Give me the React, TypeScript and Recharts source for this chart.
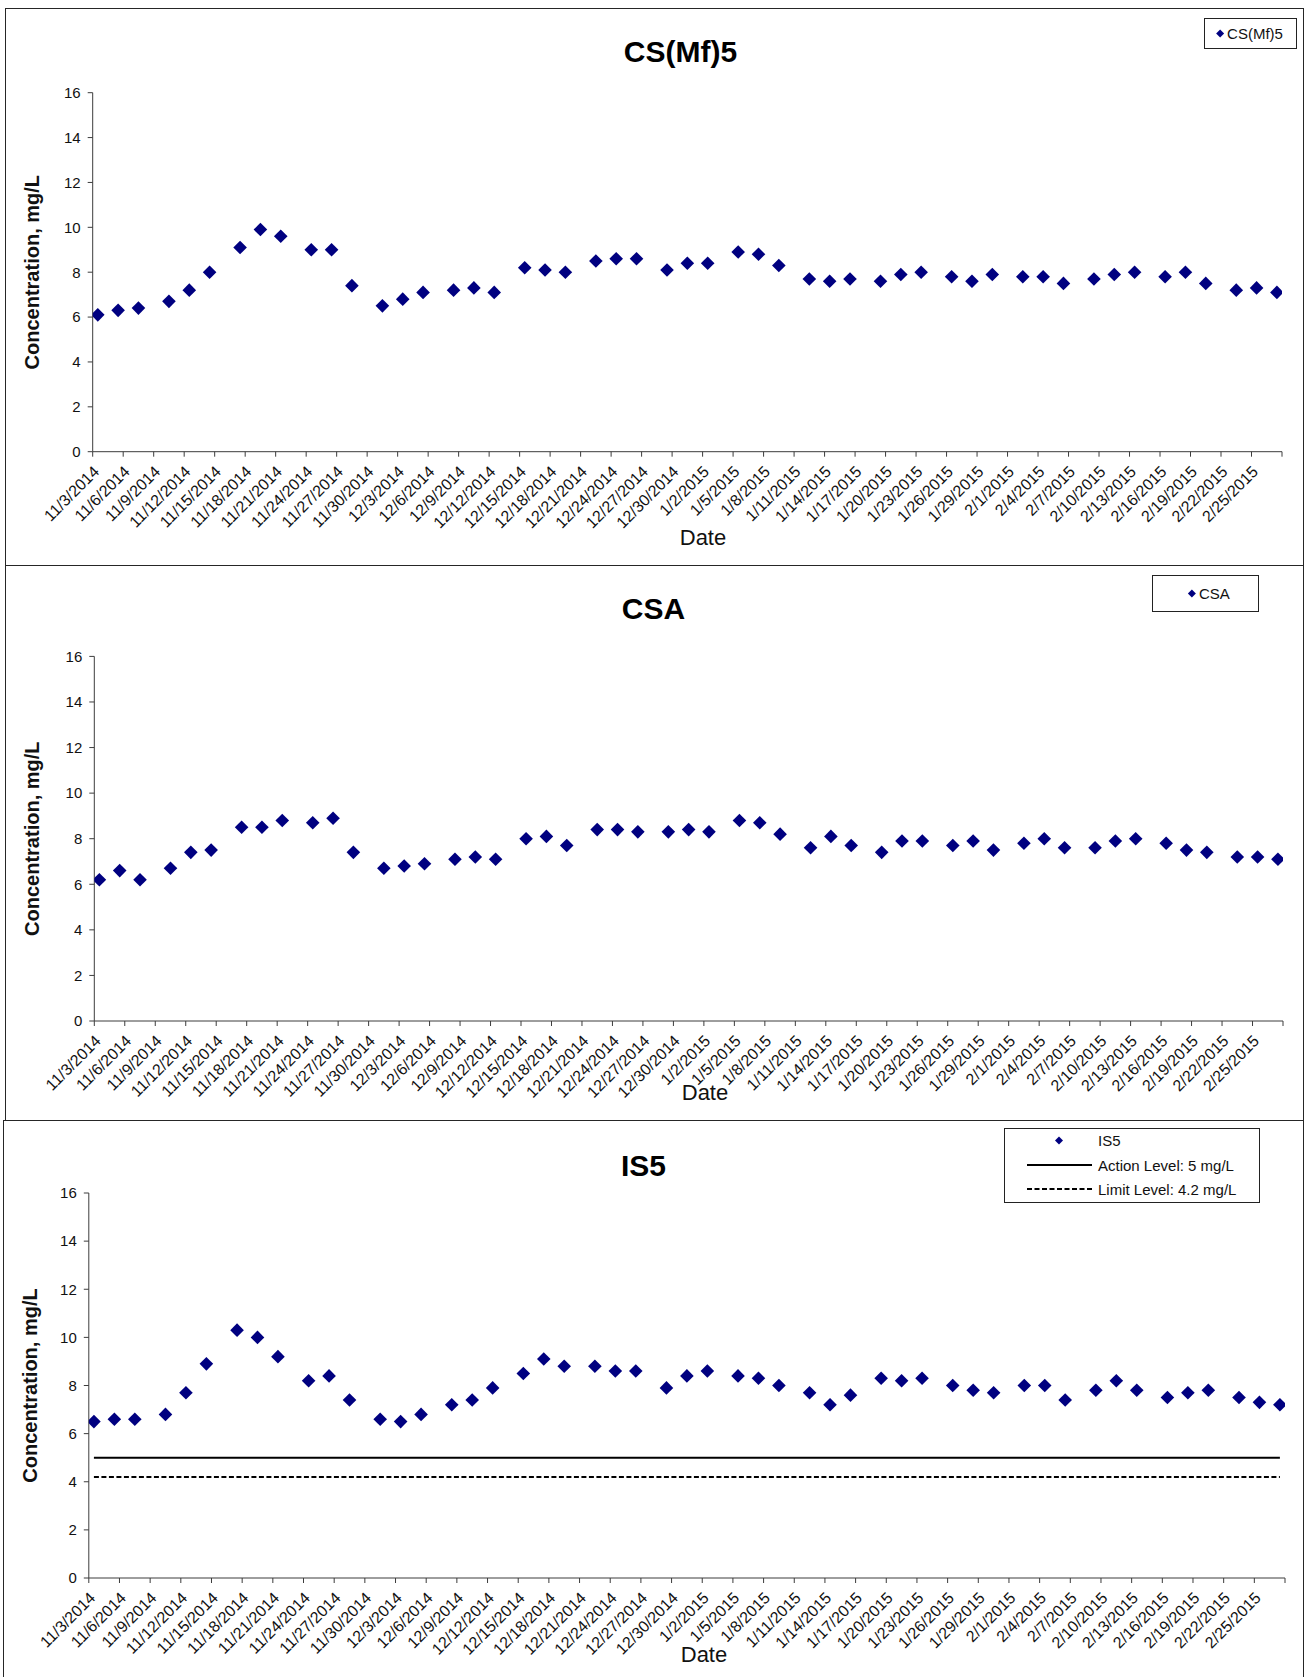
import React from 'react';
import { ScatterChart, Scatter, XAxis, YAxis, Legend } from 'recharts';

const FONT = '"Liberation Sans", Arial, Helvetica, sans-serif';
const NAVY = '#000080';
const AXIS = '#3c3c3c';
const TEXT = '#111111';

// ---------- data ----------
const sampleDates = [
  '11/3/2014', '11/5/2014', '11/7/2014',
  '11/10/2014', '11/12/2014', '11/14/2014',
  '11/17/2014', '11/19/2014', '11/21/2014',
  '11/24/2014', '11/26/2014', '11/28/2014',
  '12/1/2014', '12/3/2014', '12/5/2014',
  '12/8/2014', '12/10/2014', '12/12/2014',
  '12/15/2014', '12/17/2014', '12/19/2014',
  '12/22/2014', '12/24/2014', '12/26/2014',
  '12/29/2014', '12/31/2014', '1/2/2015',
  '1/5/2015', '1/7/2015', '1/9/2015',
  '1/12/2015', '1/14/2015', '1/16/2015',
  '1/19/2015', '1/21/2015', '1/23/2015',
  '1/26/2015', '1/28/2015', '1/30/2015',
  '2/2/2015', '2/4/2015', '2/6/2015',
  '2/9/2015', '2/11/2015', '2/13/2015',
  '2/16/2015', '2/18/2015', '2/20/2015',
  '2/23/2015', '2/25/2015', '2/27/2015',
];

const csmf5Values = [
  6.1, 6.3, 6.4, 6.7, 7.2, 8.0, 9.1, 9.9, 9.6, 9.0, 9.0, 7.4,
  6.5, 6.8, 7.1, 7.2, 7.3, 7.1, 8.2, 8.1, 8.0, 8.5, 8.6, 8.6,
  8.1, 8.4, 8.4, 8.9, 8.8, 8.3, 7.7, 7.6, 7.7, 7.6, 7.9, 8.0,
  7.8, 7.6, 7.9, 7.8, 7.8, 7.5, 7.7, 7.9, 8.0, 7.8, 8.0, 7.5,
  7.2, 7.3, 7.1,
];

const csaValues = [
  6.2, 6.6, 6.2, 6.7, 7.4, 7.5, 8.5, 8.5, 8.8, 8.7, 8.9, 7.4,
  6.7, 6.8, 6.9, 7.1, 7.2, 7.1, 8.0, 8.1, 7.7, 8.4, 8.4, 8.3,
  8.3, 8.4, 8.3, 8.8, 8.7, 8.2, 7.6, 8.1, 7.7, 7.4, 7.9, 7.9,
  7.7, 7.9, 7.5, 7.8, 8.0, 7.6, 7.6, 7.9, 8.0, 7.8, 7.5, 7.4,
  7.2, 7.2, 7.1,
];

const is5Values = [
  6.5, 6.6, 6.6, 6.8, 7.7, 8.9, 10.3, 10.0, 9.2, 8.2, 8.4, 7.4,
  6.6, 6.5, 6.8, 7.2, 7.4, 7.9, 8.5, 9.1, 8.8, 8.8, 8.6, 8.6,
  7.9, 8.4, 8.6, 8.4, 8.3, 8.0, 7.7, 7.2, 7.6, 8.3, 8.2, 8.3,
  8.0, 7.8, 7.7, 8.0, 8.0, 7.4, 7.8, 8.2, 7.8, 7.5, 7.7, 7.8,
  7.5, 7.3, 7.2,
];

const actionLevel = 5;
const limitLevel = 4.2;

const tickLabels = [
  '11/3/2014', '11/6/2014', '11/9/2014', '11/12/2014', '11/15/2014', '11/18/2014',
  '11/21/2014', '11/24/2014', '11/27/2014', '11/30/2014', '12/3/2014', '12/6/2014',
  '12/9/2014', '12/12/2014', '12/15/2014', '12/18/2014', '12/21/2014', '12/24/2014',
  '12/27/2014', '12/30/2014', '1/2/2015', '1/5/2015', '1/8/2015', '1/11/2015',
  '1/14/2015', '1/17/2015', '1/20/2015', '1/23/2015', '1/26/2015', '1/29/2015',
  '2/1/2015', '2/4/2015', '2/7/2015', '2/10/2015', '2/13/2015', '2/16/2015',
  '2/19/2015', '2/22/2015', '2/25/2015',
];
const axisStartDate = '11/3/2014';
const axisEndDate = '2/28/2015';
const yTicks = [0, 2, 4, 6, 8, 10, 12, 14, 16];

// ---------- helpers ----------
const toUTC = (s: string) => {
  const [m, d, y] = s.split('/').map(Number);
  return Date.UTC(y, m - 1, d);
};
const dayOf = (s: string) => (toUTC(s) - toUTC(axisStartDate)) / 86400000;

// points sit at the middle of their day (date axis, between tick marks)
const toPoints = (values: number[]) =>
  sampleDates.map((d, i) => ({ x: dayOf(d) + 0.5, y: values[i] }));

const xTicks = [...tickLabels, axisEndDate].map(dayOf);
const labelByDay = new Map<number, string>(tickLabels.map((t) => [dayOf(t), t]));
const xDomain = [0, dayOf(axisEndDate)];

const firstX = dayOf(sampleDates[0]) + 0.5;
const lastX = dayOf(sampleDates[sampleDates.length - 1]) + 0.5;
const actionData = [
  { x: firstX, y: actionLevel },
  { x: lastX, y: actionLevel },
];
const limitData = [
  { x: firstX, y: limitLevel },
  { x: lastX, y: limitLevel },
];

// ---------- shapes ----------
const Diamond = (props: any) => {
  const { cx, cy } = props;
  if (cx == null || cy == null) return <g />;
  const r = 6.8;
  return (
    <polygon
      points={`${cx},${cy - r} ${cx + r},${cy} ${cx},${cy + r} ${cx - r},${cy}`}
      fill={NAVY}
    />
  );
};
const NoShape = () => <g />;

const XTick = (props: any) => {
  const { x, y, payload } = props;
  const label = labelByDay.get(Math.round(payload.value)) ?? '';
  if (!label) return <g />;
  const ax = x + 7.5;
  const ay = y + 16;
  return (
    <text
      x={ax}
      y={ay}
      transform={`rotate(-45, ${ax}, ${ay})`}
      textAnchor="end"
      fontSize={16}
      fontFamily={FONT}
      fill={TEXT}
    >
      {label}
    </text>
  );
};

// ---------- layout ----------
type Panel = {
  title: string;
  titleX: number;
  titleY: number;
  chartTop: number;
  chartH: number;
  plotLeft: number;
  plotRight: number;
  plotTop: number;
  plotBottom: number;
  yLabelX: number;
  dateX: number;
  dateY: number;
  legend: { left: number; top: number; width: number; height: number };
  values: number[];
  name: string;
  levels: boolean;
};

const panels: Panel[] = [
  {
    title: 'CS(Mf)5', titleX: 680.5, titleY: 61.5,
    chartTop: 8, chartH: 558,
    plotLeft: 92.7, plotRight: 1282, plotTop: 92.7, plotBottom: 451.7,
    yLabelX: 32.5, dateX: 703, dateY: 545,
    legend: { left: 1204, top: 17.5, width: 93, height: 31 },
    values: csmf5Values, name: 'CS(Mf)5', levels: false,
  },
  {
    title: 'CSA', titleX: 653.5, titleY: 619,
    chartTop: 566, chartH: 555,
    plotLeft: 94.3, plotRight: 1283, plotTop: 656.4, plotBottom: 1021,
    yLabelX: 31.6, dateX: 705, dateY: 1100,
    legend: { left: 1152, top: 575, width: 107, height: 37 },
    values: csaValues, name: 'CSA', levels: false,
  },
  {
    title: 'IS5', titleX: 643.5, titleY: 1175.5,
    chartTop: 1121, chartH: 556,
    plotLeft: 88.8, plotRight: 1285, plotTop: 1193, plotBottom: 1578,
    yLabelX: 29.5, dateX: 704, dateY: 1661.5,
    legend: { left: 1004, top: 1128, width: 256, height: 75 },
    values: is5Values, name: 'IS5', levels: true,
  },
];

const PAGE_W = 1306;

const SimpleLegend = ({ name, width, height }: { name: string; width: number; height: number }) => {
  // diamond then text, centred in the box
  const charW = 8.4;
  const textW = name.length * charW;
  const totalW = 10 + textW;
  const startX = (width - totalW) / 2 + 4;
  const cy = height / 2;
  return (
    <div
      style={{
        width, height, boxSizing: 'border-box', border: '1px solid #222',
        background: '#fff', position: 'relative',
      }}
    >
      <svg width={width} height={height} style={{ position: 'absolute', left: -1, top: -1 }}>
        <polygon
          points={`${startX},${cy - 4} ${startX + 4},${cy} ${startX},${cy + 4} ${startX - 4},${cy}`}
          fill={NAVY}
        />
        <text x={startX + 7} y={cy} dominantBaseline="central" fontSize={15} fontFamily={FONT} fill={TEXT}>
          {name}
        </text>
      </svg>
    </div>
  );
};

const LevelsLegend = ({ name, width, height }: { name: string; width: number; height: number }) => {
  const rows = [12.5, 37, 61];
  const mx = 55;
  const l0 = 23;
  const l1 = 88;
  const tx = 94;
  return (
    <div
      style={{
        width, height, boxSizing: 'border-box', border: '1px solid #222',
        background: '#fff', position: 'relative',
      }}
    >
      <svg width={width} height={height} style={{ position: 'absolute', left: -1, top: -1 }}>
        <polygon
          points={`${mx},${rows[0] - 4} ${mx + 4},${rows[0]} ${mx},${rows[0] + 4} ${mx - 4},${rows[0]}`}
          fill={NAVY}
        />
        <text x={tx} y={rows[0]} dominantBaseline="central" fontSize={15} fontFamily={FONT} fill={TEXT}>
          {name}
        </text>
        <line x1={l0} x2={l1} y1={rows[1]} y2={rows[1]} stroke="#000" strokeWidth={2} />
        <text x={tx} y={rows[1]} dominantBaseline="central" fontSize={15} fontFamily={FONT} fill={TEXT}>
          {`Action Level: ${actionLevel} mg/L`}
        </text>
        <line
          x1={l0} x2={l1} y1={rows[2]} y2={rows[2]}
          stroke="#000" strokeWidth={2} strokeDasharray="5 2.5"
        />
        <text x={tx} y={rows[2]} dominantBaseline="central" fontSize={15} fontFamily={FONT} fill={TEXT}>
          {`Limit Level: ${limitLevel} mg/L`}
        </text>
      </svg>
    </div>
  );
};

const PanelChart = ({ p }: { p: Panel }) => {
  const data = toPoints(p.values);
  const rel = (y: number) => y - p.chartTop;
  const yMid = rel((p.plotTop + p.plotBottom) / 2);
  const xAxisH = p.chartH - rel(p.plotBottom);
  return (
    <div style={{ position: 'absolute', left: 0, top: p.chartTop, width: PAGE_W, height: p.chartH }}>
      <ScatterChart
        width={PAGE_W}
        height={p.chartH}
        margin={{ top: rel(p.plotTop), right: PAGE_W - p.plotRight, bottom: 0, left: 0 }}
      >
        <XAxis
          type="number"
          dataKey="x"
          domain={xDomain}
          ticks={xTicks}
          interval={0}
          height={xAxisH}
          tickSize={5}
          tickMargin={0}
          axisLine={{ stroke: AXIS, strokeWidth: 1 }}
          tickLine={{ stroke: AXIS, strokeWidth: 1 }}
          tick={<XTick />}
          allowDataOverflow
          label={{
            content: () => (
              <text
                x={p.dateX}
                y={rel(p.dateY)}
                textAnchor="middle"
                fontSize={22}
                fontFamily={FONT}
                fill={TEXT}
              >
                Date
              </text>
            ),
          }}
        />
        <YAxis
          type="number"
          dataKey="y"
          domain={[0, 16]}
          ticks={yTicks}
          interval={0}
          width={p.plotLeft}
          tickSize={5}
          tickMargin={7}
          axisLine={{ stroke: AXIS, strokeWidth: 1 }}
          tickLine={{ stroke: AXIS, strokeWidth: 1 }}
          tick={{ fontSize: 15, fontFamily: FONT, fill: TEXT }}
          allowDataOverflow
          label={{
            content: () => (
              <text
                x={p.yLabelX}
                y={yMid}
                transform={`rotate(-90, ${p.yLabelX}, ${yMid})`}
                textAnchor="middle"
                dominantBaseline="central"
                fontSize={20}
                fontWeight="bold"
                fontFamily={FONT}
                fill={TEXT}
              >
                Concentration, mg/L
              </text>
            ),
          }}
        />
        {p.levels && (
          <Scatter
            name={`Action Level: ${actionLevel} mg/L`}
            data={actionData}
            fill="#000"
            line={{ stroke: '#000', strokeWidth: 2 }}
            shape={NoShape}
            isAnimationActive={false}
          />
        )}
        {p.levels && (
          <Scatter
            name={`Limit Level: ${limitLevel} mg/L`}
            data={limitData}
            fill="#000"
            line={{ stroke: '#000', strokeWidth: 2, strokeDasharray: '5 2.5' }}
            shape={NoShape}
            isAnimationActive={false}
          />
        )}
        <Scatter name={p.name} data={data} fill={NAVY} shape={Diamond} isAnimationActive={false} />
        <Legend
          layout="horizontal"
          verticalAlign="middle"
          align="center"
          wrapperStyle={{
            left: p.legend.left,
            top: rel(p.legend.top),
            width: p.legend.width,
            height: p.legend.height,
            margin: 0,
            padding: 0,
          }}
          content={() =>
            p.levels ? (
              <LevelsLegend name={p.name} width={p.legend.width} height={p.legend.height} />
            ) : (
              <SimpleLegend name={p.name} width={p.legend.width} height={p.legend.height} />
            )
          }
        />
      </ScatterChart>
    </div>
  );
};

export default function App() {
  return (
    <div
      style={{
        position: 'absolute', left: 0, top: 0, width: PAGE_W, height: 1677,
        overflow: 'hidden', background: '#fff', fontFamily: FONT,
      }}
    >
      {panels.map((p) => (
        <PanelChart key={p.title} p={p} />
      ))}
      <svg
        width={PAGE_W}
        height={1677}
        style={{ position: 'absolute', left: 0, top: 0, pointerEvents: 'none' }}
      >
        {panels.map((p) => (
          <text
            key={p.title}
            x={p.titleX}
            y={p.titleY}
            textAnchor="middle"
            fontSize={30}
            fontWeight="bold"
            fontFamily={FONT}
            fill="#000"
          >
            {p.title}
          </text>
        ))}
      </svg>
      {/* panel frames */}
      <div style={{ position: 'absolute', left: 5, top: 8, width: 1299, height: 558, border: '1px solid #262626', boxSizing: 'border-box', pointerEvents: 'none' }} />
      <div style={{ position: 'absolute', left: 5, top: 565, width: 1299, height: 556, border: '1px solid #262626', boxSizing: 'border-box', pointerEvents: 'none' }} />
      <div style={{ position: 'absolute', left: 3, top: 1120, width: 1301, height: 600, border: '1px solid #262626', boxSizing: 'border-box', pointerEvents: 'none' }} />
    </div>
  );
}
